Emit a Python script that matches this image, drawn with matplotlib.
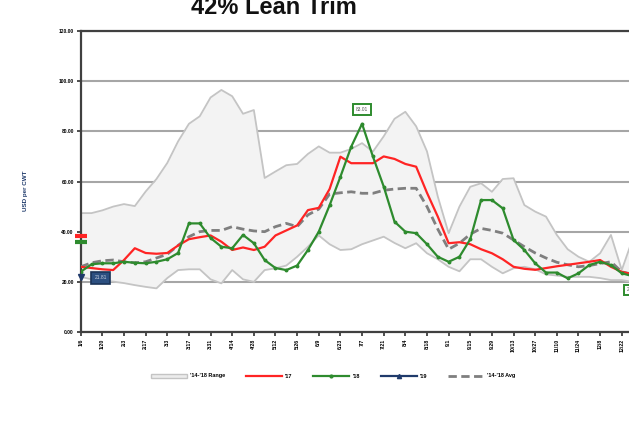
import matplotlib.pyplot as plt
from matplotlib.patches import Patch
from matplotlib.lines import Line2D

# weekly values, week 0 = 1/6
range_hi = [47.4, 47.4, 48.5, 50.0, 51.0, 50.2, 56.0, 61.0, 67.4, 76.0,
            83.0, 86.0, 93.5, 96.5, 94.0, 87.0, 88.5, 61.4, 64.0, 66.5,
            67.0, 71.0, 74.0, 71.5, 71.5, 73.0, 75.3, 71.9, 78.0, 85.0,
            87.8, 82.0, 72.0, 54.0, 39.4, 50.0, 57.9, 59.3, 55.9, 61.0,
            61.3, 50.6, 48.0, 46.0, 38.7, 33.0, 30.0, 28.0, 31.4, 38.7,
            24.7, 37.0]
range_lo = [22.0, 21.0, 20.5, 20.1, 19.5, 18.7, 18.0, 17.4, 21.5, 24.7,
            25.0, 25.0, 21.0, 19.4, 24.7, 21.0, 20.0, 24.7, 25.4, 26.5,
            30.0, 34.0, 38.5, 35.0, 32.7, 33.0, 35.0, 36.5, 38.0, 35.5,
            33.4, 35.4, 31.4, 29.0, 26.0, 24.2, 29.0, 29.0, 26.0, 23.4,
            25.4, 26.0, 25.0, 23.0, 22.5, 22.0, 22.0, 22.0, 21.5, 20.7,
            20.7, 20.0]
avg = [26.0, 27.6, 28.4, 28.7, 28.0, 27.6, 28.0, 29.5, 31.0, 34.5,
       38.0, 40.0, 40.5, 40.5, 42.0, 41.0, 40.3, 40.0, 42.0, 43.3,
       42.0, 46.7, 49.0, 55.0, 55.5, 55.9, 55.3, 55.3, 56.5, 57.0,
       57.3, 57.3, 50.0, 41.0, 33.0, 35.4, 39.0, 41.3, 40.5, 39.4,
       36.7, 34.0, 31.5, 29.5, 27.8, 26.8, 26.0, 26.5, 27.3, 28.0,
       24.0, 23.0]
y17 = [26.0, 25.5, 25.0, 24.7, 28.7, 33.4, 31.5, 31.2, 31.5, 34.5,
       37.0, 37.8, 38.5, 36.0, 32.7, 33.7, 32.7, 34.0, 38.5, 40.5,
       42.5, 48.6, 49.5, 57.0, 69.9, 67.3, 67.3, 67.3, 70.0, 69.0,
       67.0, 65.9, 55.5, 46.0, 35.4, 35.8, 35.0, 33.0, 31.4, 29.0,
       26.0, 25.2, 24.8, 25.5, 26.2, 26.8, 27.4, 28.0, 28.7, 26.0,
       24.0, 23.0]
y18 = [24.0, 27.0, 27.4, 27.4, 28.0, 27.6, 27.4, 28.0, 29.0, 31.5,
       43.3, 43.3, 37.5, 34.0, 33.4, 38.7, 35.4, 28.7, 25.5, 24.7,
       26.5, 32.7, 40.0, 50.5, 61.9, 73.9, 83.01, 70.0, 58.0, 44.0,
       40.0, 39.4, 35.0, 30.0, 28.0, 30.0, 37.0, 52.6, 52.6, 49.3,
       36.7, 32.7, 27.4, 23.7, 23.7, 21.4, 23.4, 26.7, 28.0, 26.7,
       23.4, 22.3]
y19 = [21.81]
weeks = list(range(len(range_hi)))

tick_weeks = list(range(0, 51, 2))
tick_labels = ['1/6', '1/20', '2/3', '2/17', '3/3', '3/17', '3/31', '4/14',
               '4/28', '5/12', '5/26', '6/9', '6/23', '7/7', '7/21', '8/4',
               '8/18', '9/1', '9/15', '9/29', '10/13', '10/27', '11/10',
               '11/24', '12/8', '12/22']

# year-ago markers on the axis
mark_17 = 38.3
mark_18 = 36.0

plt.rcParams['font.family'] = ['Liberation Sans', 'DejaVu Sans']

fig = plt.figure(figsize=(6.29, 4.23), dpi=100)
ax = fig.add_axes([0.1283, 0.2151, 0.886, 0.7116])

ax.fill_between(weeks, range_lo, range_hi, color='#f3f3f3', lw=0, zorder=1)
ax.plot(weeks, range_hi, color='#c4c4c4', lw=1.3, zorder=2)
ax.plot(weeks, range_lo, color='#c4c4c4', lw=1.3, zorder=2)
ax.plot(weeks, avg, color='#7f7f7f', lw=2, dashes=(3, 1.6), zorder=3)
ax.plot(weeks, y17, color='#ff2424', lw=1.6, zorder=4)
ax.plot(weeks, y18, color='#2e8b2e', lw=1.6, marker='o', ms=1.8, zorder=5)
ax.plot(weeks[:len(y19)], y19, color='#1f3a6b', lw=1.6, marker='v', ms=4,
        zorder=6, clip_on=False)

ax.plot([0], [mark_17], marker='_', ms=8, mew=3, color='#ff2424', clip_on=False, zorder=7)
ax.plot([0], [mark_18], marker='_', ms=8, mew=3, color='#2e8b2e', clip_on=False, zorder=7)

ax.annotate('83.01', (26, 83.01), xytext=(0, 10), textcoords='offset points',
            ha='center', va='center', fontsize=3.5, color='#555555',
            bbox=dict(boxstyle='square,pad=0.6', fc='white', ec='#2e8b2e', lw=1.4))
ax.annotate('21.81', (0, 21.81), xytext=(14.5, -0.5), textcoords='offset points',
            ha='center', va='center', fontsize=3.5, color='#c8d0e0',
            bbox=dict(boxstyle='square,pad=0.7', fc='#2c4f80', ec='#1a3358', lw=1.2))
ax.annotate('%.2f' % y18[-1], (51, y18[-1]), xytext=(0, -10), textcoords='offset points',
            ha='center', va='center', fontsize=3.5, color='#555555',
            bbox=dict(boxstyle='square,pad=0.6', fc='white', ec='#2e8b2e', lw=1.4),
            annotation_clip=False)

ax.set_xlim(0, 51.5)
ax.set_ylim(0, 120)
ax.set_yticks(range(0, 121, 20))
ax.set_yticklabels(['%.2f' % v for v in range(0, 121, 20)], fontsize=3.5, fontweight='bold')
ax.set_xticks(tick_weeks)
ax.set_xticklabels(tick_labels, rotation=90, fontsize=3.8, fontweight='bold')
ax.tick_params(axis='both', length=3, width=1.2, color='#303030', pad=2)
ax.grid(axis='y', color='#a6a6a6', lw=1.5, zorder=0)
ax.set_axisbelow(True)
for s in ['left', 'bottom', 'top']:
    ax.spines[s].set_color('#404040')
    ax.spines[s].set_linewidth(1.6)
ax.spines['right'].set_visible(False)

fig.text(0.04, 0.548, 'USD per CWT', rotation=90, ha='center', va='center',
         fontsize=4.5, fontweight='bold', color='#1f3a6b')
fig.text(274 / 629, 1 - 14.3 / 423, '42% Lean Trim', ha='center', va='baseline',
         fontsize=17, fontweight='bold', color='#111111')

handles = [Patch(fc='#ececec', ec='#c4c4c4', lw=1),
           Line2D([], [], color='#ff2424', lw=1.6),
           Line2D([], [], color='#2e8b2e', lw=1.6, marker='o', ms=2),
           Line2D([], [], color='#1f3a6b', lw=1.6, marker='^', ms=3),
           Line2D([], [], color='#7f7f7f', lw=2, dashes=(3, 1.6))]
labels = ["'14-'18 Range", "'17", "'18", "'19", "'14-'18 Avg"]
fig.legend(handles, labels, loc='center', bbox_to_anchor=(333 / 629, 1 - 376 / 423),
           ncol=5, frameon=False, prop={'size': 4, 'weight': 'bold'},
           handlelength=6.5, columnspacing=3.8, handletextpad=0.5)

fig.savefig('out.png', dpi=100)
